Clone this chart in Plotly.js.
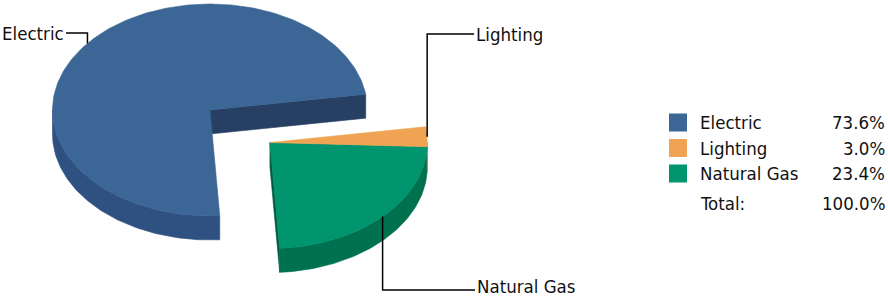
<!DOCTYPE html>
<html>
<head>
<meta charset="utf-8">
<script src="https://cdn.plot.ly/plotly-3.0.1.min.js"></script>
<style>html,body{margin:0;padding:0;background:#fff;}#chart{width:888px;height:298px;}</style>
</head>
<body>
<div id="chart"></div>
<script>
// ---- data ----
const categories = ['Electric', 'Lighting', 'Natural Gas'];
const values = [73.6, 3.0, 23.4];
const totalLabel = 'Total:';

// ---- style ----
const topColors  = ['#3B6696', '#F0A453', '#00946F'];
const sideColors = ['#2F5181', '#C98940', '#00714F'];
const faceColors = ['#263F63', '#A86A2A', '#005A40'];
const pulled = [false, true, true];
const ccwOrder = [0, 2, 1];          // slice order counter-clockwise from start angle
const FONT = '"DejaVu Sans Condensed", "DejaVu Sans", sans-serif';
const FS = 18.5;

const geo = {cx: 210, cy: 110, rx: 157.5, ry: 106, depth: 24, start: 8.6, pull: 77};
// label layout: y of the horizontal leader, end x of leader, text center y
const labelCfg = [
  {lineY: 33, endX: 66, textY: 33},
  {lineY: 34, endX: 474, textY: 34},
  {lineY: 290, endX: 475, textY: 286}
];

const total = values.reduce((a, b) => a + b, 0);
const rad = d => d * Math.PI / 180;

// slice angles
const slices = [];
let a = geo.start;
ccwOrder.forEach(i => {
  const span = values[i] / total * 360;
  slices[i] = {a1: a, a2: a + span};
  a += span;
});
// group offset for pulled slices
let gMin = Infinity, gMax = -Infinity;
ccwOrder.forEach(i => { if (pulled[i]) { gMin = Math.min(gMin, slices[i].a1); gMax = Math.max(gMax, slices[i].a2); } });
const gMid = (gMin + gMax) / 2;
const gOff = {x: geo.pull * Math.cos(rad(gMid)), y: -geo.pull * Math.sin(rad(gMid)) * geo.ry / geo.rx};
categories.forEach((c, i) => { slices[i].ox = pulled[i] ? gOff.x : 0; slices[i].oy = pulled[i] ? gOff.y : 0; });

function pt(s, ang, dz) {
  return [geo.cx + s.ox + geo.rx * Math.cos(rad(ang)), geo.cy + s.oy - geo.ry * Math.sin(rad(ang)) + dz];
}
function arc(s, from, to, dz) {
  const out = [];
  const n = Math.max(2, Math.ceil(Math.abs(to - from)));
  for (let k = 0; k <= n; k++) out.push(pt(s, from + (to - from) * k / n, dz));
  return out;
}
function poly(points, color) {
  const xs = points.map(p => p[0]); const ys = points.map(p => p[1]);
  xs.push(xs[0]); ys.push(ys[0]);
  return {type: 'scatter', mode: 'lines', x: xs, y: ys, fill: 'toself', fillcolor: color,
          line: {color: color, width: 0.6}, hoverinfo: 'skip', showlegend: false};
}
function center(s, dz) { return [geo.cx + s.ox, geo.cy + s.oy + dz]; }

function groupTraces(isPulled) {
  const idx = ccwOrder.filter(i => pulled[i] === isPulled);
  const faces = [], sides = [], tops = [];
  idx.forEach(i => {
    const s = slices[i];
    const pos = ccwOrder.indexOf(i);
    const prev = ccwOrder[(pos - 1 + ccwOrder.length) % ccwOrder.length];
    const next = ccwOrder[(pos + 1) % ccwOrder.length];
    if (pulled[prev] !== pulled[i] && Math.sin(rad(s.a1 - 90)) < 0) {
      faces.push(poly([center(s, 0), pt(s, s.a1, 0), pt(s, s.a1, geo.depth), center(s, geo.depth)], faceColors[i]));
    }
    if (pulled[next] !== pulled[i] && Math.sin(rad(s.a2 + 90)) < 0) {
      faces.push(poly([center(s, 0), pt(s, s.a2, 0), pt(s, s.a2, geo.depth), center(s, geo.depth)], faceColors[i]));
    }
    for (let k = 0; k < 2; k++) {
      const lo = Math.max(s.a1, 180 + 360 * k), hi = Math.min(s.a2, 360 + 360 * k);
      if (hi > lo) {
        sides.push(poly(arc(s, lo, hi, 0).concat(arc(s, hi, lo, geo.depth)), sideColors[i]));
      }
    }
    tops.push(poly([center(s, 0)].concat(arc(s, s.a1, s.a2, 0)), topColors[i]));
  });
  return faces.concat(sides, tops);
}

const traces = [].concat(groupTraces(false), groupTraces(true));
const annotations = [];
const txt = (x, y, text, xanchor) => ({x: x, y: y, xref: 'x', yref: 'y', text: text, showarrow: false,
  xanchor: xanchor, yanchor: 'middle', borderpad: 0, font: {family: FONT, size: FS, color: '#111'}});

// leader lines + labels
categories.forEach((c, i) => {
  const s = slices[i];
  const m = (s.a1 + s.a2) / 2;
  const p = pt(s, m, 0);
  const cfg = labelCfg[i];
  traces.push({type: 'scatter', mode: 'lines', x: [p[0], p[0], cfg.endX], y: [p[1], cfg.lineY, cfg.lineY],
               line: {color: '#000', width: 1.5}, hoverinfo: 'skip', showlegend: false});
  const left = Math.cos(rad(m)) < 0;
  annotations.push(txt(left ? cfg.endX - 1 : cfg.endX + 1, cfg.textY, c, left ? 'right' : 'left'));
});

// legend table
const legRowY = [122.5, 148, 173.5];
const legTotalY = 203;
traces.push({type: 'scatter', mode: 'markers', x: categories.map(() => 678), y: legRowY,
             marker: {symbol: 'square', size: 18, color: topColors, line: {width: 0}}, hoverinfo: 'skip', showlegend: false});
categories.forEach((c, i) => {
  annotations.push(txt(699, legRowY[i], c, 'left'));
  annotations.push(txt(886, legRowY[i], (values[i] / total * 100).toFixed(1) + '%', 'right'));
});
annotations.push(txt(699, legTotalY, totalLabel, 'left'));
annotations.push(txt(886, legTotalY, (total / total * 100).toFixed(1) + '%', 'right'));

const layout = {
  width: 888, height: 298,
  margin: {l: 0, r: 0, t: 0, b: 0, pad: 0},
  paper_bgcolor: '#fff', plot_bgcolor: '#fff',
  xaxis: {range: [0, 888], visible: false, fixedrange: true},
  yaxis: {range: [298, 0], visible: false, fixedrange: true},
  showlegend: false,
  annotations: annotations
};
Plotly.newPlot('chart', traces, layout, {staticPlot: true, displayModeBar: false});
</script>
</body>
</html>
